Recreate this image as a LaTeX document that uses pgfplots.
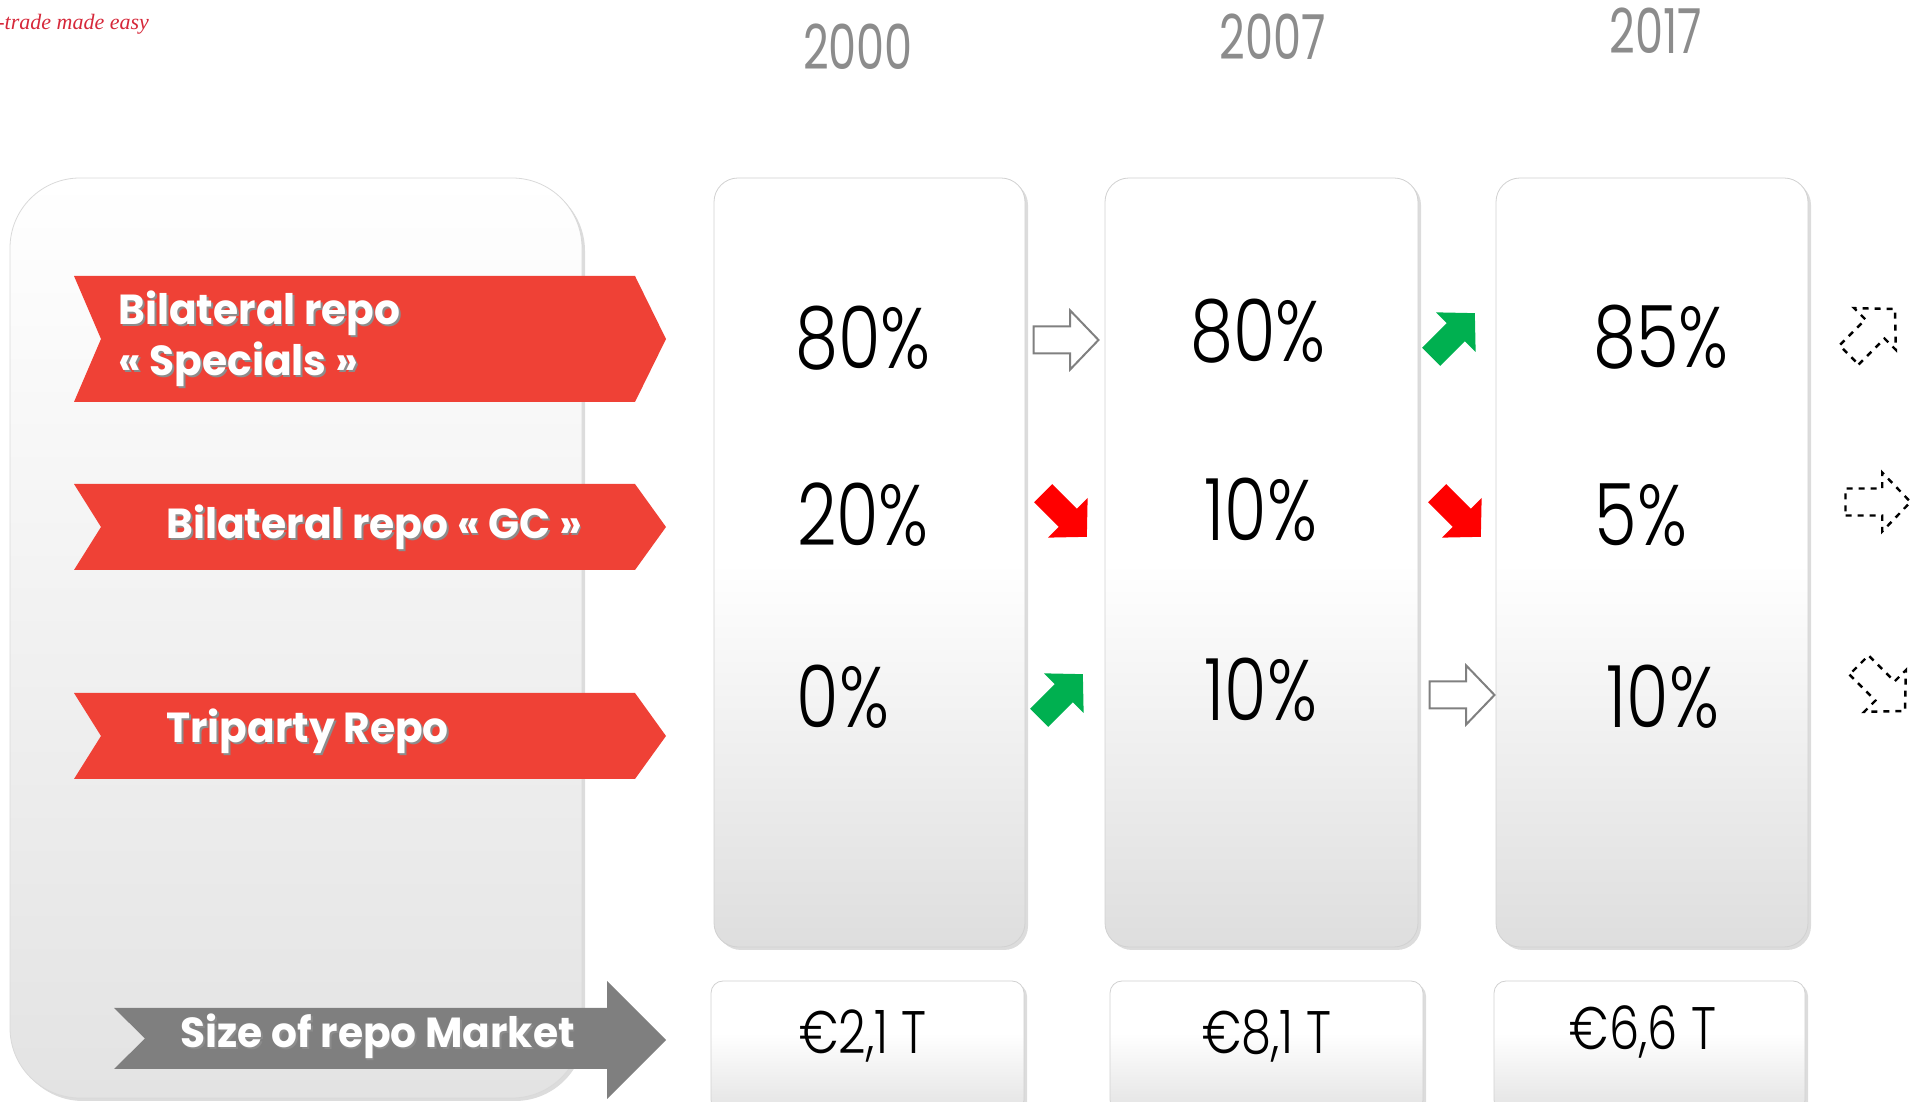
\documentclass[border=0pt]{standalone}
\usepackage{pgfplots}
\pgfplotsset{compat=1.18}
\usepackage{pgfplotstable}
\usepackage{fontspec}
\setmainfont{Poppins}
\newfontfamily\narrowfont{Poppins Light}[FakeStretch=0.8]
\newfontfamily\yearfont{Poppins}[FakeStretch=0.72]
\newfontfamily\bannerfont{Poppins}[FakeStretch=0.97]
\newfontfamily\logofont{Liberation Serif}
\usetikzlibrary{shadows}
\definecolor{bannerred}{RGB}{239,65,54}
\definecolor{arrowgray}{RGB}{127,127,127}
\definecolor{upgreen}{RGB}{0,176,80}
\definecolor{downred}{RGB}{255,0,0}
\definecolor{yeargray}{RGB}{140,140,140}
\definecolor{logored}{RGB}{214,40,58}
\pgfdeclareverticalshading{colshade}{100bp}{color(0bp)=(black!13); color(25bp)=(black!13); color(50bp)=(white); color(100bp)=(white)}
\pgfdeclareverticalshading{leftshade}{100bp}{color(0bp)=(black!11); color(25bp)=(black!11); color(75bp)=(white); color(100bp)=(white)}
\pgfdeclareverticalshading{boxshade}{100bp}{color(0bp)=(black!11); color(25bp)=(black!11); color(55bp)=(white); color(100bp)=(white)}
\tikzset{pics/blockarrow/.style={code={\path[pic actions] (-16.25pt,-6.75pt) -- (2.1pt,-6.75pt) -- (2.1pt,-14.75pt) -- (16.25pt,0pt) -- (2.1pt,14.75pt) -- (2.1pt,6.75pt) -- (-16.25pt,6.75pt) -- cycle;}}}
\tikzset{boxshadow/.style={drop shadow={opacity=0.28,shadow xshift=1.5pt,shadow yshift=-1.5pt}}}
\tikzset{btext/.style={anchor=west, inner sep=0pt, font=\bannerfont\bfseries\fontsize{21}{23}\selectfont}}

% shares (%) per year: x, y = position in the panel, share
\pgfplotstableread{
x y share
863 764 80
863 587 20
843 405 0
}\shareA
\pgfplotstableread{
x y share
1258 771 80
1261 592 10
1261 412 10
}\shareB
\pgfplotstableread{
x y share
1661 765 85
1641 587 5
1663 405 10
}\shareC
% size of repo market (EUR trillion)
\pgfplotstableread{
x y size
863 66 2.1
1267 66 8.1
1643 70 6.6
}\sizes

\begin{document}
\begin{tikzpicture}
\begin{axis}[x=0.5pt,y=0.5pt,xmin=0,xmax=1923,ymin=0,ymax=1102,hide axis,clip=false,
  point meta=explicit, nodes near coords align=center,
  /pgf/number format/assume math mode=true]
\coordinate (SW) at (axis cs:0,0);
\coordinate (NE) at (axis cs:1923,1102);

% left panel
\shade[shading=leftshade, draw=black!15, rounded corners=35pt, boxshadow] (axis cs:10,4) rectangle (axis cs:582,924);

% year columns
\shade[shading=colshade, draw=black!18, rounded corners=12pt, boxshadow] (axis cs:714,155) rectangle (axis cs:1025,924);
\shade[shading=colshade, draw=black!18, rounded corners=12pt, boxshadow] (axis cs:1105,155) rectangle (axis cs:1418,924);
\shade[shading=colshade, draw=black!18, rounded corners=12pt, boxshadow] (axis cs:1496,155) rectangle (axis cs:1808,924);

% bottom boxes
\shade[shading=boxshade, draw=black!18, rounded corners=6pt, boxshadow] (axis cs:711,-10) rectangle (axis cs:1024,121);
\shade[shading=boxshade, draw=black!18, rounded corners=6pt, boxshadow] (axis cs:1110,-10) rectangle (axis cs:1423,121);
\shade[shading=boxshade, draw=black!18, rounded corners=6pt, boxshadow] (axis cs:1494,-10) rectangle (axis cs:1805,121);

% red banners
\fill[bannerred] (axis cs:74,826) -- (axis cs:635,826) -- (axis cs:666,763) -- (axis cs:635,700) -- (axis cs:74,700) -- (axis cs:101,763) -- cycle;
\fill[bannerred] (axis cs:74,618) -- (axis cs:635,618) -- (axis cs:666,575) -- (axis cs:635,532) -- (axis cs:74,532) -- (axis cs:101,575) -- cycle;
\fill[bannerred] (axis cs:74,409) -- (axis cs:635,409) -- (axis cs:666,366) -- (axis cs:635,323) -- (axis cs:74,323) -- (axis cs:101,366) -- cycle;
% gray arrow
\fill[arrowgray] (axis cs:114,94) -- (axis cs:607,94) -- (axis cs:607,121) -- (axis cs:666,62) -- (axis cs:607,3) -- (axis cs:607,33) -- (axis cs:114,33) -- (axis cs:145,63.5) -- cycle;

% banner texts (shadow, then white)
\node[btext, text=black!45, xshift=0.9pt, yshift=-0.9pt] at (axis cs:118,789) {Bilateral repo};
\node[btext, text=black!45, xshift=0.9pt, yshift=-0.9pt] at (axis cs:118,738) {« Specials »};
\node[btext, text=black!45, xshift=0.9pt, yshift=-0.9pt] at (axis cs:166,575) {Bilateral repo « GC »};
\node[btext, text=black!45, xshift=0.9pt, yshift=-0.9pt] at (axis cs:166,371) {Triparty Repo};
\node[btext, text=black!45, xshift=0.9pt, yshift=-0.9pt] at (axis cs:180,66) {Size of repo Market};
\node[btext, text=white] at (axis cs:118,789) {Bilateral repo};
\node[btext, text=white] at (axis cs:118,738) {« Specials »};
\node[btext, text=white] at (axis cs:166,575) {Bilateral repo « GC »};
\node[btext, text=white] at (axis cs:166,371) {Triparty Repo};
\node[btext, text=white] at (axis cs:180,66) {Size of repo Market};

% year labels
\node[font=\yearfont\fontsize{31}{33}\selectfont, text=yeargray] at (axis cs:858,1055) {2000};
\node[font=\yearfont\fontsize{31}{33}\selectfont, text=yeargray] at (axis cs:1273,1065) {2007};
\node[font=\yearfont\fontsize{31}{33}\selectfont, text=yeargray] at (axis cs:1656,1071) {2017};

% logo
\node[anchor=west, inner sep=0pt, font=\logofont\itshape\fontsize{11}{13}\selectfont, text=logored] at (axis cs:-3,1078) {-trade made easy};

% arrows between columns
\pic[fill=white, draw=gray, line width=1pt] at (axis cs:1066,762) {blockarrow};
\pic[fill=downred, rotate=-45, scale=0.95] at (axis cs:1065,587) {blockarrow};
\pic[fill=upgreen, rotate=45, scale=0.95] at (axis cs:1061,406) {blockarrow};
\pic[fill=upgreen, rotate=45, scale=0.95] at (axis cs:1453,767) {blockarrow};
\pic[fill=downred, rotate=-45, scale=0.95] at (axis cs:1459,587) {blockarrow};
\pic[fill=white, draw=gray, line width=1pt] at (axis cs:1462,407) {blockarrow};
% outlook arrows
\pic[draw=black, dashed, line width=1.2pt, rotate=45] at (axis cs:1872,770) {blockarrow};
\pic[draw=black, dashed, line width=1.2pt] at (axis cs:1878,600) {blockarrow};
\pic[draw=black, dashed, line width=1.2pt, rotate=-45] at (axis cs:1882,414) {blockarrow};

% data values
\pgfplotsset{pct/.style={only marks, mark=none,
  nodes near coords={\pgfmathprintnumber{\pgfplotspointmeta}\%},
  every node near coord/.append style={font=\narrowfont\fontsize{43}{45}\selectfont, text=black, inner sep=0pt, anchor=center}}}
\addplot[pct] table[x=x,y=y,meta=share]{\shareA};
\addplot[pct] table[x=x,y=y,meta=share]{\shareB};
\addplot[pct] table[x=x,y=y,meta=share]{\shareC};
\addplot[only marks, mark=none,
  nodes near coords={€\pgfmathprintnumber[fixed,precision=1,fixed zerofill,use comma]{\pgfplotspointmeta}\ T},
  every node near coord/.append style={font=\narrowfont\fontsize{30}{32}\selectfont, text=black, inner sep=0pt, anchor=center}]
  table[x=x,y=y,meta=size]{\sizes};
\end{axis}
\pgfresetboundingbox
\path[use as bounding box] (SW) rectangle (NE);
\end{tikzpicture}
\end{document}
